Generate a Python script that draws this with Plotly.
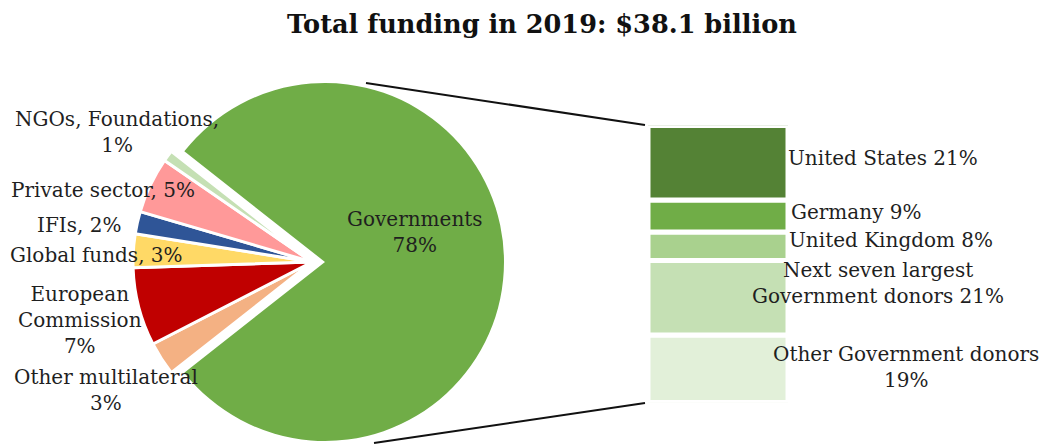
import plotly.graph_objects as go

# ---- data -------------------------------------------------------------
pie_labels = ["Governments", "Other multilateral", "European Commission",
              "Global funds", "IFIs", "Private sector", "NGOs, Foundations"]
pie_values = [78, 3, 7, 3, 2, 5, 1]
pie_colors = ["#70AD47", "#F4B183", "#C00000", "#FFD966", "#2F5597",
              "#FF9999", "#C5E0B4"]
pie_text = ["Governments<br>78%", "Other multilateral<br>3%",
            "European<br>Commission<br>7%", "Global funds, 3%", "IFIs, 2%",
            "Private sector, 5%", "NGOs, Foundations,<br>1%"]

bar_labels = ["United States", "Germany", "United Kingdom",
              "Next seven largest Government donors", "Other Government donors"]
bar_values = [21, 9, 8, 21, 19]
bar_colors = ["#548235", "#70AD47", "#A9D18E", "#C5E0B4", "#E2F0D9"]
bar_text = ["United States 21%", "Germany 9%", "United Kingdom 8%",
            "Next seven largest<br>Government donors 21%",
            "Other Government donors<br>19%"]

title = "Total funding in 2019: $38.1 billion"

# ---- page geometry (pixels) --------------------------------------------
W, H = 1042, 444
def px(x): return x / W
def py(y): return 1 - y / H

CX, CY, R = 325, 262, 179      # pie centre / radius
SHIFT = 13                     # offset of the smaller slices to the left
BAR_X0, BAR_X1 = 648, 788
BAR_TOP, BAR_BOT = 125.5, 402.5

FONT = "DejaVu Serif"
FS = 20
TXT = "#1f1f1f"

total = sum(pie_values)
rotation = 90 - 180 * pie_values[0] / total   # centre the main slice at 3 o'clock
clear = "rgba(0,0,0,0)"

fig = go.Figure()

# main slice
fig.add_trace(go.Pie(
    labels=pie_labels, values=pie_values, sort=False, direction="clockwise",
    rotation=rotation, textinfo="none", hoverinfo="skip", showlegend=False,
    marker=dict(colors=[pie_colors[0]] + [clear] * (len(pie_values) - 1),
                line=dict(width=0)),
    domain=dict(x=[px(CX - R), px(CX + R)], y=[py(CY + R), py(CY - R)]),
))

# smaller slices, set apart to the left
fig.add_trace(go.Pie(
    labels=pie_labels, values=pie_values, sort=False, direction="clockwise",
    rotation=rotation, textinfo="none", hoverinfo="skip", showlegend=False,
    marker=dict(colors=[clear] + pie_colors[1:],
                line=dict(color=[clear] + ["white"] * (len(pie_values) - 1),
                          width=3)),
    domain=dict(x=[px(CX - SHIFT - R), px(CX - SHIFT + R)],
                y=[py(CY + R), py(CY - R)]),
))

# stacked breakdown bar (bottom to top)
vals_up = bar_values[::-1]
cols_up = bar_colors[::-1]
bases = []
acc = 0
for v in vals_up:
    bases.append(acc)
    acc += v
fig.add_trace(go.Bar(
    x=[0.5] * len(vals_up), y=vals_up, base=bases, width=1,
    marker=dict(color=cols_up, line=dict(color="white", width=5)),
    hoverinfo="skip", showlegend=False, xaxis="x", yaxis="y",
))

annotations = []

# title
annotations.append(dict(
    text=f"<b>{title}</b>", x=px(542), y=py(24), xref="paper", yref="paper",
    showarrow=False, xanchor="center", yanchor="middle",
    font=dict(family=FONT, size=25.6, color="#111111"),
))

# pie labels
pie_pos = [(415, 232), (106, 390), (80, 320), (96, 255), (79, 225),
           (103, 190), (117, 132)]
for txt, (x, y) in zip(pie_text, pie_pos):
    annotations.append(dict(
        text=txt, x=px(x), y=py(y), xref="paper", yref="paper",
        showarrow=False, xanchor="center", yanchor="middle", align="center",
        font=dict(family=FONT, size=FS, color=TXT),
    ))

# bar labels
bar_pos = [(786, 158, "left"), (789, 212, "left"), (787, 240, "left"),
           (878, 283, "center"), (906, 367, "center")]
for txt, (x, y, anc) in zip(bar_text, bar_pos):
    annotations.append(dict(
        text=txt, x=px(x), y=py(y), xref="paper", yref="paper",
        showarrow=False, xanchor=anc, yanchor="middle", align="center",
        font=dict(family=FONT, size=FS, color=TXT),
    ))

# connector lines from the main slice to the bar
shapes = [
    dict(type="line", xref="paper", yref="paper",
         x0=px(366), y0=py(83), x1=px(645), y1=py(125),
         line=dict(color="#111111", width=2)),
    dict(type="line", xref="paper", yref="paper",
         x0=px(374), y0=py(443), x1=px(645), y1=py(403),
         line=dict(color="#111111", width=2)),
]

fig.update_layout(
    width=W, height=H, margin=dict(l=0, r=0, t=0, b=0),
    paper_bgcolor="white", plot_bgcolor="white", barmode="overlay",
    xaxis=dict(domain=[px(BAR_X0), px(BAR_X1)], range=[0, 1], visible=False,
               fixedrange=True),
    yaxis=dict(domain=[py(BAR_BOT), py(BAR_TOP)], range=[0, sum(bar_values)],
               visible=False, fixedrange=True),
    annotations=annotations, shapes=shapes, showlegend=False,
)

fig.write_html("out.html")
